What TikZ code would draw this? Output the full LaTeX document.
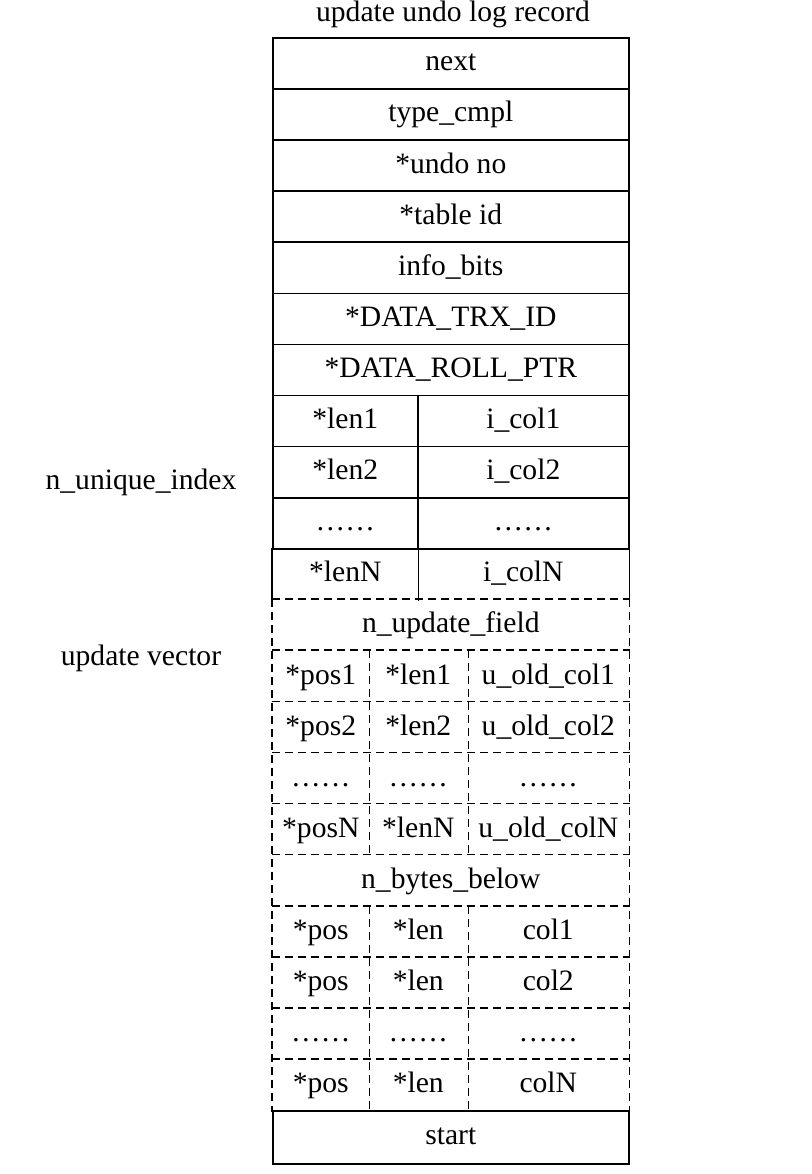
\documentclass[tikz,border=0pt]{standalone}
\usepackage{fontspec}
\setmainfont{Liberation Serif}
\begin{document}
\begin{tikzpicture}[x=0.5pt,y=-0.5pt,line width=0.8pt,
every node/.style={font=\fontsize{14.8}{17}\selectfont},
cell/.style={anchor=north west,inner sep=0pt,minimum height=25.55pt,text height=10.5pt,text depth=3pt},
box/.style={cell,draw},
full/.style={minimum width=178pt},
ca/.style={minimum width=72.5pt},
cb/.style={minimum width=105.5pt},
da/.style={minimum width=48pt},
db/.style={minimum width=49.5pt},
dc/.style={minimum width=80.5pt},
dline/.style={dash pattern=on 4pt off 2.5pt}]
\useasboundingbox (0,0) rectangle (812,1174);
% labels
\node (title) at (453,14) {update undo log record};
\node (uniq) at (141,482) {n\_unique\_index};
\node (updvec) at (141,658) {update vector};
% fixed part
\node[box,full] (next) at (272,37) {next};
\node[box,full] (type) at (272,88.1) {type\_cmpl};
\node[box,full] (undo) at (272,139.2) {*undo no};
\node[box,full] (table) at (272,190.3) {*table id};
\node[box,full] (info) at (272,241.4) {info\_bits};
\node[box,full] (trx) at (272,292.5) {*DATA\_TRX\_ID};
\node[box,full] (roll) at (272,343.6) {*DATA\_ROLL\_PTR};
\node[box,ca] (len1) at (272,394.7) {*len1};
\node[box,cb] (icol1) at (417,394.7) {i\_col1};
\node[box,ca] (len2) at (272,445.8) {*len2};
\node[box,cb] (icol2) at (417,445.8) {i\_col2};
\node[box,ca] (lend) at (272,496.9) {……};
\node[box,cb] (icold) at (417,496.9) {……};
\node[cell,ca] (lenN) at (272,548) {*lenN};
\node[cell,cb] (icolN) at (417,548) {i\_colN};
\draw (lenN.north west) -- (lenN.south west);
\draw (lenN.north east) -- (lenN.south east);
\draw (icolN.north east) -- (icolN.south east);
% update vector
\node[cell,full] (nupd) at (272,599.1) {n\_update\_field};
\node[cell,da] (pos1) at (272,650.2) {*pos1};
\node[cell,db] (ulen1) at (368,650.2) {*len1};
\node[cell,dc] (ucol1) at (467,650.2) {u\_old\_col1};
\node[cell,da] (pos2) at (272,701.3) {*pos2};
\node[cell,db] (ulen2) at (368,701.3) {*len2};
\node[cell,dc] (ucol2) at (467,701.3) {u\_old\_col2};
\node[cell,da] (posd) at (272,752.4) {……};
\node[cell,db] (ulend) at (368,752.4) {……};
\node[cell,dc] (ucold) at (467,752.4) {……};
\node[cell,da] (posN) at (272,803.5) {*posN};
\node[cell,db] (ulenN) at (368,803.5) {*lenN};
\node[cell,dc] (ucolN) at (467,803.5) {u\_old\_colN};
% bytes below
\node[cell,full] (nbytes) at (272,854.6) {n\_bytes\_below};
\node[cell,da] (bpos1) at (272,905.7) {*pos};
\node[cell,db] (blen1) at (368,905.7) {*len};
\node[cell,dc] (bcol1) at (467,905.7) {col1};
\node[cell,da] (bpos2) at (272,956.8) {*pos};
\node[cell,db] (blen2) at (368,956.8) {*len};
\node[cell,dc] (bcol2) at (467,956.8) {col2};
\node[cell,da] (bposd) at (272,1007.9) {……};
\node[cell,db] (blend) at (368,1007.9) {……};
\node[cell,dc] (bcold) at (467,1007.9) {……};
\node[cell,da] (bposN) at (272,1059) {*pos};
\node[cell,db] (blenN) at (368,1059) {*len};
\node[cell,dc] (bcolN) at (467,1059) {colN};
\node[box,full,minimum height=26.5pt] (start) at (272,1110.1) {start};
% dashed grid
\foreach \a/\b in {nupd/nupd,pos1/ucol1,pos2/ucol2,posd/ucold,posN/ucolN,
  nbytes/nbytes,bpos1/bcol1,bpos2/bcol2,bposd/bcold,bposN/bcolN}
  \draw[dline] (\a.north west) -- (\b.north east);
\draw[dline] (nupd.north west) -- (bposN.south west);
\draw[dline] (nupd.north east) -- (bcolN.south east);
\foreach \a/\b in {pos1/posN,ulen1/ulenN,bpos1/bposN,blen1/blenN}
  \draw[dline] (\a.north east) -- (\b.south east);
\end{tikzpicture}
\end{document}
